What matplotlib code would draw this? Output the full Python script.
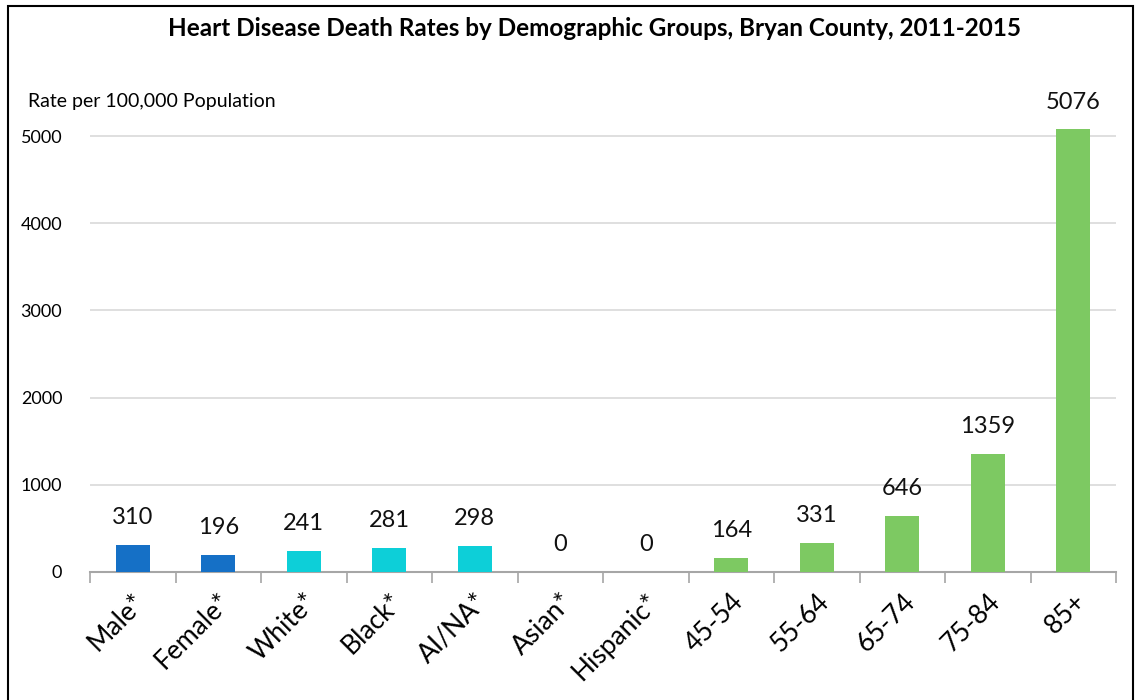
import matplotlib.pyplot as plt
from matplotlib.patches import Rectangle

# Chart data
categories = ['Male*', 'Female*', 'White*', 'Black*', 'AI/NA*', 'Asian*', 'Hispanic*',
              '45-54', '55-64', '65-74', '75-84', '85+']
rates = [310, 196, 241, 281, 298, 0, 0, 164, 331, 646, 1359, 5076]
groups = ['sex', 'sex', 'race', 'race', 'race', 'race', 'race',
          'age', 'age', 'age', 'age', 'age']
yticks = [0, 1000, 2000, 3000, 4000, 5000]

group_colors = {'sex': '#1570C6', 'race': '#0DCFD8', 'age': '#7DC962'}

plt.rcParams['font.family'] = ['Lato', 'DejaVu Sans']

fig = plt.figure(figsize=(11.35, 7), dpi=100)
ax = fig.add_axes([90 / 1135, 128 / 700, 1026 / 1135, 0.685])

x = range(len(categories))
colors = [group_colors[g] for g in groups]
ax.bar(x, rates, width=0.4, color=colors, zorder=3)

# value labels above bars
for xi, v in zip(x, rates):
    ax.annotate(str(v), (xi, v), xytext=(0, 12), textcoords='offset points',
                ha='center', va='bottom', fontsize=17, color='#111111')

ax.set_xlim(-0.5, len(categories) - 0.5)
ax.set_ylim(0, 5500)
ax.set_yticks(yticks)
ax.set_yticklabels([str(t) for t in yticks], fontsize=13)
ax.tick_params(axis='y', length=0, pad=20)
ax.yaxis.grid(True, color='#D9D9D9', linewidth=1.2, zorder=0)

# tick marks between categories, labels at category centres
ax.set_xticks([i - 0.5 for i in range(len(categories) + 1)], minor=False)
ax.set_xticklabels([])
ax.tick_params(axis='x', which='major', length=8, width=1.2, color='#A6A6A6', direction='out')
ax.set_xticks(list(x), minor=True)
ax.set_xticklabels(categories, minor=True, rotation=45, ha='right',
                   rotation_mode='anchor', fontsize=19)
ax.tick_params(axis='x', which='minor', length=0, pad=12)

for s in ['top', 'right', 'left']:
    ax.spines[s].set_visible(False)
ax.spines['bottom'].set_color('#A6A6A6')
ax.spines['bottom'].set_linewidth(1.5)

fig.text(595 / 1135, 1 - 28 / 700, 'Heart Disease Death Rates by Demographic Groups, Bryan County, 2011-2015',
         ha='center', va='center', fontsize=17.5, fontweight='bold')
fig.text(28 / 1135, 1 - 101 / 700, 'Rate per 100,000 Population', ha='left', va='center', fontsize=14)

fig.patches.append(Rectangle((8 / 1135, -0.01), 1125 / 1135, 1 - 6 / 700 + 0.01,
                             transform=fig.transFigure, fill=False,
                             edgecolor='black', linewidth=1.5))

fig.savefig('out.png', dpi=100)
